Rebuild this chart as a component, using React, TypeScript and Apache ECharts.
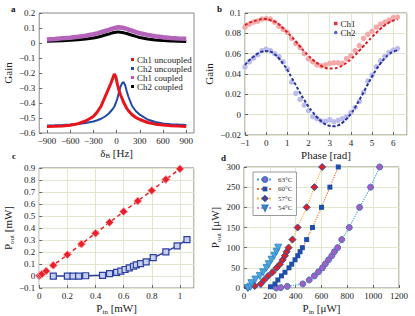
import React, { useEffect, useRef } from 'react';
import * as echarts from 'echarts';

const FONT = 'Liberation Serif, serif';

// ---------- Panel a ----------
const aFreq = [-900, -800, -700, -600, -500, -400, -300, -250, -200, -150, -100, -75, -50, -30, -10, 10, 30, 50, 75, 90, 110, 130, 150, 200, 250, 300, 400, 500, 600, 700, 800, 900];
const aCh1Uncoupled = [-0.556, -0.555, -0.553, -0.548, -0.538, -0.52, -0.49, -0.46, -0.42, -0.36, -0.3, -0.27, -0.235, -0.207, -0.225, -0.275, -0.315, -0.345, -0.375, -0.395, -0.415, -0.435, -0.45, -0.478, -0.497, -0.51, -0.53, -0.541, -0.547, -0.551, -0.554, -0.556];
const aCh2Uncoupled = [-0.55, -0.549, -0.547, -0.544, -0.54, -0.533, -0.523, -0.515, -0.505, -0.49, -0.47, -0.455, -0.44, -0.425, -0.4, -0.37, -0.33, -0.29, -0.265, -0.262, -0.28, -0.32, -0.355, -0.42, -0.455, -0.478, -0.51, -0.527, -0.536, -0.541, -0.544, -0.546];
const aCh1Coupled = [0.024, 0.027, 0.031, 0.035, 0.041, 0.048, 0.058, 0.064, 0.072, 0.08, 0.088, 0.092, 0.096, 0.099, 0.102, 0.104, 0.105, 0.104, 0.102, 0.1, 0.097, 0.094, 0.09, 0.082, 0.073, 0.066, 0.054, 0.045, 0.038, 0.033, 0.03, 0.028];
const aCh2Coupled = [0.012, 0.013, 0.015, 0.018, 0.021, 0.026, 0.033, 0.038, 0.045, 0.053, 0.06, 0.064, 0.068, 0.07, 0.072, 0.073, 0.073, 0.072, 0.07, 0.068, 0.066, 0.063, 0.06, 0.052, 0.044, 0.037, 0.027, 0.02, 0.016, 0.013, 0.011, 0.01];
const aXTicks = [-900, -600, -300, 0, 300, 600, 900];

// ---------- Panel b ----------
const bPhase = [-1, -0.8, -0.6, -0.4, -0.2, 0, 0.2, 0.4, 0.6, 0.8, 1.0, 1.2, 1.4, 1.6, 1.8, 2.0, 2.2, 2.4, 2.6, 2.8, 3.0, 3.2, 3.4, 3.6, 3.8, 4.0, 4.2, 4.4, 4.6, 4.8, 5.0, 5.2, 5.4, 5.6, 5.8, 6.0, 6.2];
const bCh1Data = [0.086, 0.089, 0.091, 0.092, 0.094, 0.0945, 0.094, 0.091, 0.087, 0.084, 0.081, 0.075, 0.07, 0.066, 0.06, 0.055, 0.052, 0.049, 0.048, 0.049, 0.0505, 0.051, 0.051, 0.0505, 0.055, 0.058, 0.063, 0.068, 0.075, 0.079, 0.082, 0.086, 0.089, 0.091, 0.093, 0.0955, 0.096];
const bCh1Fit = [0.088, 0.0905, 0.092, 0.093, 0.094, 0.094, 0.093, 0.0915, 0.089, 0.085, 0.081, 0.0765, 0.072, 0.067, 0.062, 0.058, 0.054, 0.051, 0.048, 0.046, 0.0453, 0.0455, 0.0465, 0.0485, 0.051, 0.0545, 0.0585, 0.063, 0.0675, 0.072, 0.0765, 0.0805, 0.0845, 0.088, 0.0905, 0.0925, 0.0935];
const bCh2Data = [0.047, 0.052, 0.0555, 0.059, 0.063, 0.0645, 0.063, 0.06, 0.057, 0.052, 0.045, 0.032, 0.021, 0.015, 0.0095, 0.004, -0.002, -0.004, -0.006, -0.0065, -0.005, -0.007, -0.0055, -0.004, -0.002, 0.002, 0.007, 0.013, 0.022, 0.033, 0.039, 0.047, 0.053, 0.057, 0.061, 0.0635, 0.065];
const bCh2Fit = [0.049, 0.0535, 0.057, 0.06, 0.062, 0.0625, 0.062, 0.0595, 0.0555, 0.05, 0.044, 0.0365, 0.029, 0.0215, 0.0145, 0.008, 0.0025, -0.0025, -0.0065, -0.0095, -0.011, -0.0115, -0.0105, -0.008, -0.004, 0.001, 0.007, 0.0145, 0.022, 0.03, 0.0375, 0.0445, 0.0505, 0.0555, 0.0595, 0.062, 0.0632];

// ---------- Panel c ----------
const cRedPin = [0, 0.01, 0.02, 0.05, 0.1, 0.2, 0.3, 0.4, 0.5, 0.6, 0.7, 0.8, 0.9, 1.0];
const cRedPout = [0.003, 0.01, 0.018, 0.042, 0.09, 0.178, 0.267, 0.357, 0.447, 0.537, 0.625, 0.712, 0.805, 0.893];
const cBluePin = [0.1, 0.2, 0.24, 0.28, 0.33, 0.45, 0.5, 0.55, 0.58, 0.61, 0.64, 0.67, 0.69, 0.72, 0.76, 0.81, 0.9, 0.98, 1.05];
const cBluePout = [0, 0, 0, 0, 0.003, 0.006, 0.02, 0.031, 0.041, 0.055, 0.069, 0.082, 0.094, 0.104, 0.118, 0.153, 0.202, 0.252, 0.303];

// ---------- Panel d ----------
const d63Pin = [250, 285, 335, 455, 505, 545, 577, 608, 630, 655, 680, 700, 725, 757, 815, 895, 980, 1050];
const d63Pout = [0, 1, 4, 10, 20, 30, 40, 50, 60, 70, 80, 90, 100, 120, 150, 200, 250, 300];
const d60Pin = [205, 240, 262, 290, 317, 348, 369, 395, 416, 434, 452, 485, 530, 600, 665, 730];
const d60Pout = [3, 10, 20, 30, 39, 50, 59, 70, 80, 90, 100, 120, 150, 200, 250, 300];
const d57Pin = [30, 83, 130, 156, 187, 221, 252, 278, 299, 317, 330, 345, 375, 415, 485, 545, 605];
const d57Pout = [1, 5, 10, 20, 30, 39, 50, 59, 70, 80, 90, 100, 120, 150, 200, 250, 300];
const d54Pin = [30, 50, 57, 88, 122, 148, 174, 192, 213, 234, 252, 265];
const d54Pout = [0, 3, 12, 21, 30, 39, 50, 59, 70, 80, 90, 100];

const pair = (xs: number[], ys: number[]) => xs.map((x, i) => [x, ys[i]]);
const fmt = (v: number) => String(Math.round(v * 10000) / 10000).replace('-', '\u2212');

const nameStyle = {
  fontFamily: FONT,
  fontSize: 11,
  color: '#222',
  lineHeight: 14,
  rich: {
    s: { fontFamily: FONT, fontSize: 7, color: '#222', lineHeight: 8, verticalAlign: 'bottom' },
  },
};

function axis(grid: number, min: number, max: number, interval: number, name: string, nameGap: number, isY: boolean, split: boolean, extra: any = {}) {
  return {
    type: 'value',
    gridIndex: grid,
    min,
    max,
    interval,
    name,
    nameGap,
    nameLocation: 'middle',
    nameTextStyle: nameStyle,
    axisLine: { show: false, onZero: false },
    axisTick: { show: true, inside: true, length: 3, lineStyle: { color: '#666' }, ...(extra.axisTick || {}) },
    axisLabel: { fontFamily: FONT, fontSize: 9, color: '#222', margin: isY ? 4 : 3, formatter: fmt, ...(extra.axisLabel || {}) },
    splitLine: { show: split, lineStyle: { color: '#dfe8cc', width: 1 } },
  };
}

const titleStyle = { fontFamily: FONT, fontSize: 9, fontWeight: 'bold', color: '#111' };
const noStroke = { borderWidth: 0, borderColor: 'transparent' };
const SQ = 'path://M0,0L10,0L10,10L0,10Z';
const DOT = 'path://M5,0A5,5,0,1,1,4.99,0Z';

const option: any = {
  animation: false,
  backgroundColor: '#fff',
  textStyle: { fontFamily: FONT },
  title: [
    { text: 'a', left: 11, top: 4, padding: 0, textStyle: titleStyle },
    { text: 'b', left: 217, top: 4, padding: 0, textStyle: titleStyle },
    { text: 'c', left: 12, top: 151, padding: 0, textStyle: titleStyle },
    { text: 'd', left: 221, top: 153, padding: 0, textStyle: titleStyle },
  ],
  grid: [
    { left: 36, top: 13, width: 158, height: 120, show: true, borderColor: '#888', borderWidth: 1 },
    { left: 245, top: 13, width: 162, height: 122, show: true, borderColor: '#888', borderWidth: 1 },
    { left: 36, top: 168, width: 158, height: 122, show: true, borderColor: '#777', borderWidth: 1 },
    { left: 244, top: 167, width: 155, height: 122, show: true, borderColor: '#888', borderWidth: 1 },
  ],
  xAxis: [
    axis(0, -1000, 1000, 300, '\u03b4{s|B} [Hz]', 12, false, false, {
      axisLabel: { customValues: aXTicks },
      axisTick: { customValues: aXTicks },
    }),
    axis(1, -1, 6.65, 1, 'Phase [rad]', 10, false, true, { axisLabel: { showMaxLabel: false } }),
    axis(2, 0, 1.1, 0.2, 'P{s|in} [mW]', 12, false, true, { axisLabel: { showMaxLabel: false } }),
    axis(3, 0, 1200, 200, 'P{s|in} [\u03bcW]', 13, false, true),
  ],
  yAxis: [
    axis(0, -0.6, 0.2, 0.1, 'Gain', 20, true, false),
    axis(1, -0.02, 0.1, 0.02, 'Gain', 22, true, true),
    axis(2, -0.1, 0.9, 0.1, 'P{s|out} [mW]', 20, true, true),
    axis(3, 0, 300, 50, 'P{s|out} [\u03bcW]', 22, true, true),
  ],
  legend: [
    {
      left: 131, top: 55, orient: 'vertical', itemGap: 0, itemWidth: 3, itemHeight: 3, icon: SQ, padding: 0,
      itemStyle: noStroke, lineStyle: { width: 0 },
      textStyle: { fontFamily: FONT, fontSize: 9, color: '#222', lineHeight: 7.7, padding: [0, 0, 0, -2] },
      data: [
        { name: 'Ch1 uncoupled', itemStyle: { color: '#e8141c', ...noStroke } },
        { name: 'Ch2 uncoupled', itemStyle: { color: '#1f4aa8', ...noStroke } },
        { name: 'Ch1 coupled', itemStyle: { color: '#c050c0', ...noStroke } },
        { name: 'Ch2 coupled', itemStyle: { color: '#000', ...noStroke } },
      ],
    },
    {
      left: 334, top: 19, orient: 'vertical', itemGap: 0, itemWidth: 3.5, itemHeight: 3.5, padding: 0,
      itemStyle: noStroke, lineStyle: { width: 0 },
      textStyle: { fontFamily: FONT, fontSize: 9, color: '#222', lineHeight: 7.5, padding: [0, 0, 0, -2] },
      data: [
        { name: 'Ch1', icon: SQ, itemStyle: { color: '#e8303a', ...noStroke } },
        { name: 'Ch2', icon: DOT, itemStyle: { color: '#5563c8', ...noStroke } },
      ],
    },
    {
      left: 253, top: 172, orient: 'vertical', itemGap: 0.5, itemWidth: 16, itemHeight: 6, padding: [3, 4, 3, 3],
      backgroundColor: '#fff', borderColor: '#999', borderWidth: 1,
      textStyle: { fontFamily: FONT, fontSize: 7, color: '#333', lineHeight: 9 },
      data: ['63\u00b0C', '60\u00b0C', '57\u00b0C', '54\u00b0C'],
    },
  ],
  series: [
    // panel a
    { name: 'Ch2 uncoupled', type: 'line', xAxisIndex: 0, yAxisIndex: 0, data: pair(aFreq, aCh2Uncoupled), showSymbol: false, lineStyle: { color: '#1f4aa8', width: 2 }, itemStyle: { color: '#1f4aa8' } },
    { name: 'Ch1 uncoupled', type: 'line', xAxisIndex: 0, yAxisIndex: 0, data: pair(aFreq, aCh1Uncoupled), showSymbol: false, lineStyle: { color: '#e8141c', width: 3 }, itemStyle: { color: '#e8141c' } },
    { name: 'Ch2 coupled', type: 'line', xAxisIndex: 0, yAxisIndex: 0, data: pair(aFreq, aCh2Coupled), showSymbol: false, lineStyle: { color: '#000', width: 3 }, itemStyle: { color: '#000' } },
    { name: 'Ch1 coupled', type: 'line', xAxisIndex: 0, yAxisIndex: 0, data: pair(aFreq, aCh1Coupled), showSymbol: false, lineStyle: { color: '#b464b8', width: 4.5 }, itemStyle: { color: '#b464b8' } },
    // panel b
    { name: 'Ch1', type: 'scatter', xAxisIndex: 1, yAxisIndex: 1, data: pair(bPhase, bCh1Data), symbol: 'circle', symbolSize: 5.5, itemStyle: { color: '#f6a7a7', opacity: 1 } },
    { name: 'Ch2', type: 'scatter', xAxisIndex: 1, yAxisIndex: 1, data: pair(bPhase, bCh2Data), symbol: 'circle', symbolSize: 5.5, itemStyle: { color: '#bcbcec', opacity: 1 } },
    { name: 'Ch1 fit', type: 'line', xAxisIndex: 1, yAxisIndex: 1, data: pair(bPhase, bCh1Fit), showSymbol: false, smooth: true, lineStyle: { color: '#d91e26', width: 2, type: [3, 2] }, z: 5 },
    { name: 'Ch2 fit', type: 'line', xAxisIndex: 1, yAxisIndex: 1, data: pair(bPhase, bCh2Fit), showSymbol: false, smooth: true, lineStyle: { color: '#27359a', width: 2, type: [3, 2] }, z: 5 },
    // panel c
    { name: 'c red', type: 'line', xAxisIndex: 2, yAxisIndex: 2, data: pair(cRedPin, cRedPout), symbol: 'diamond', symbolSize: 8, lineStyle: { color: '#e8202a', width: 1.5, type: [4, 3] }, itemStyle: { color: '#e8202a', borderColor: '#f7a3a3', borderWidth: 1 } },
    { name: 'c blue', type: 'line', xAxisIndex: 2, yAxisIndex: 2, data: pair(cBluePin, cBluePout), symbol: 'rect', symbolSize: 6, lineStyle: { color: '#2b3f9e', width: 1.5 }, itemStyle: { color: '#c6cff0', borderColor: '#2b3f9e', borderWidth: 1.2 } },
    // panel d
    { name: '63\u00b0C', type: 'line', xAxisIndex: 3, yAxisIndex: 3, data: pair(d63Pin, d63Pout), symbol: 'circle', symbolSize: 6, lineStyle: { color: '#4aa3df', width: 1.2, type: 'dotted' }, itemStyle: { color: '#a25fc0', borderColor: '#4a6fc8', borderWidth: 1 } },
    { name: '60\u00b0C', type: 'line', xAxisIndex: 3, yAxisIndex: 3, data: pair(d60Pin, d60Pout), symbol: 'rect', symbolSize: 5, lineStyle: { color: '#e8743b', width: 1.2, type: 'dotted' }, itemStyle: { color: '#1f4fa8' } },
    { name: '57\u00b0C', type: 'line', xAxisIndex: 3, yAxisIndex: 3, data: pair(d57Pin, d57Pout), symbol: 'diamond', symbolSize: 7, lineStyle: { color: '#f2b632', width: 1.2, type: 'dotted' }, itemStyle: { color: '#e02020', borderColor: '#2b4ca8', borderWidth: 1 } },
    { name: '54\u00b0C', type: 'line', xAxisIndex: 3, yAxisIndex: 3, data: pair(d54Pin, d54Pout), symbol: 'triangle', symbolRotate: 180, symbolSize: 7, lineStyle: { color: '#d58ae0', width: 1.2, type: 'dotted' }, itemStyle: { color: '#49a6df', borderColor: '#2a7fbf', borderWidth: 0.8 } },
  ],
};

export default function App() {
  const ref = useRef<HTMLDivElement>(null);
  useEffect(() => {
    const chart = echarts.init(ref.current!, null, { renderer: 'svg' });
    chart.setOption(option);
    return () => chart.dispose();
  }, []);
  return <div ref={ref} style={{ position: 'absolute', left: 0, top: 0, width: 415, height: 316 }} />;
}
